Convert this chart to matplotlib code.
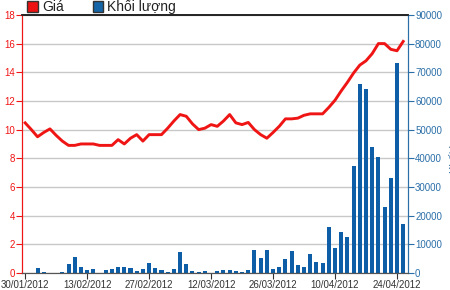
import matplotlib
matplotlib.use("Agg")
import matplotlib.pyplot as plt
from matplotlib.patches import Patch
import numpy as np

plt.rcParams['font.family'] = ['Liberation Sans', 'DejaVu Sans']

# trading sessions 30/01/2012 .. 25/04/2012
price = [10.47, 10.0, 9.5, 9.8, 10.05, 9.6, 9.2, 8.9, 8.9, 9.0,
         9.0, 9.0, 8.9, 8.9, 8.9, 9.3, 9.0, 9.4, 9.65, 9.2,
         9.65, 9.65, 9.65, 10.1, 10.6, 11.05, 10.93, 10.4, 10.0, 10.1,
         10.35, 10.23, 10.6, 11.05, 10.47, 10.35, 10.5, 10.0, 9.65, 9.4,
         9.8, 10.23, 10.75, 10.75, 10.8, 11.0, 11.1, 11.1, 11.1, 11.55,
         12.05, 12.7, 13.3, 13.95, 14.5, 14.8, 15.3, 16.0, 16.0, 15.6,
         15.5, 16.15]
volume = [0, 0, 1600, 400, 0, 0, 400, 3300, 5500, 2000,
          1200, 1500, 0, 1200, 1500, 2200, 2200, 1600, 800, 1500,
          3500, 1900, 1200, 400, 1400, 7300, 3300, 700, 500, 700,
          0, 700, 1100, 1000, 700, 350, 1150, 8000, 5400, 8000,
          1450, 2100, 5000, 7600, 2900, 2150, 6800, 3900, 3500, 16200,
          8600, 14200, 12400, 37400, 65900, 64100, 43900, 40500, 23000, 33000,
          73300, 17000]
tick_labels = ['30/01/2012', '13/02/2012', '27/02/2012', '12/03/2012',
               '26/03/2012', '10/04/2012', '24/04/2012']
price_ticks = [0, 2, 4, 6, 8, 10, 12, 14, 16, 18]
volume_ticks = [0, 10000, 20000, 30000, 40000, 50000, 60000, 70000, 80000, 90000]

RED = '#f01515'
BLUE = '#0d5ea6'
LBLUE = '#2b6fa8'

x = np.arange(len(price))

fig = plt.figure(figsize=(4.5, 2.9), dpi=100)
ax = fig.add_axes([0.049, 0.0586, 0.858, 0.890])
ax2 = ax.twinx()

# volume bars (right axis)
ax.bar(x, volume, width=0.65, color=BLUE, zorder=2)
ax.set_ylim(0, 90000)
ax.set_yticks(volume_ticks)
ax.yaxis.tick_right()
ax.yaxis.set_label_position('right')
ax.tick_params(axis='y', colors=LBLUE, labelsize=7, length=4, width=0.8, pad=1)
ax.set_axisbelow(True)
ax.yaxis.grid(True, color='#c8c8c8', linewidth=1)

ax.set_xlim(-0.5, 61.8)
ax.set_xticks(np.arange(0, len(price), 10))
ax.set_xticklabels(tick_labels)
ax.tick_params(axis='x', colors='#333333', labelsize=7, length=4, width=0.8, pad=1)

# price line (left axis)
ax2.plot(x, price, color=RED, linewidth=2.1, zorder=3)
ax2.set_ylim(0, 18)
ax2.set_yticks(price_ticks)
ax2.yaxis.tick_left()
ax2.yaxis.set_label_position('left')
ax2.tick_params(axis='y', colors=RED, labelsize=7, length=4, width=0.8, pad=1)

for a in (ax, ax2):
    a.spines['left'].set_color(RED)
    a.spines['right'].set_color(LBLUE)
    a.spines['top'].set_color('#222222')
    a.spines['bottom'].set_color('#555555')
    a.spines['top'].set_linewidth(1.2)

fig.legend(handles=[Patch(facecolor='#ee1111', edgecolor='#333333'),
                    Patch(facecolor='#1466a8', edgecolor='#333333')],
           labels=['Giá', 'Khối lượng'], ncol=2, loc='upper left',
           bbox_to_anchor=(0.033, 1.045), frameon=False, fontsize=10,
           handlelength=0.75, handleheight=0.75, handletextpad=0.3,
           columnspacing=2.1, labelcolor='#222222')

fig.text(0.997, 0.5, 'Khối lượng', rotation=90, ha='left', va='center',
         color=LBLUE, fontsize=8)

fig.savefig('out.png', dpi=100)
